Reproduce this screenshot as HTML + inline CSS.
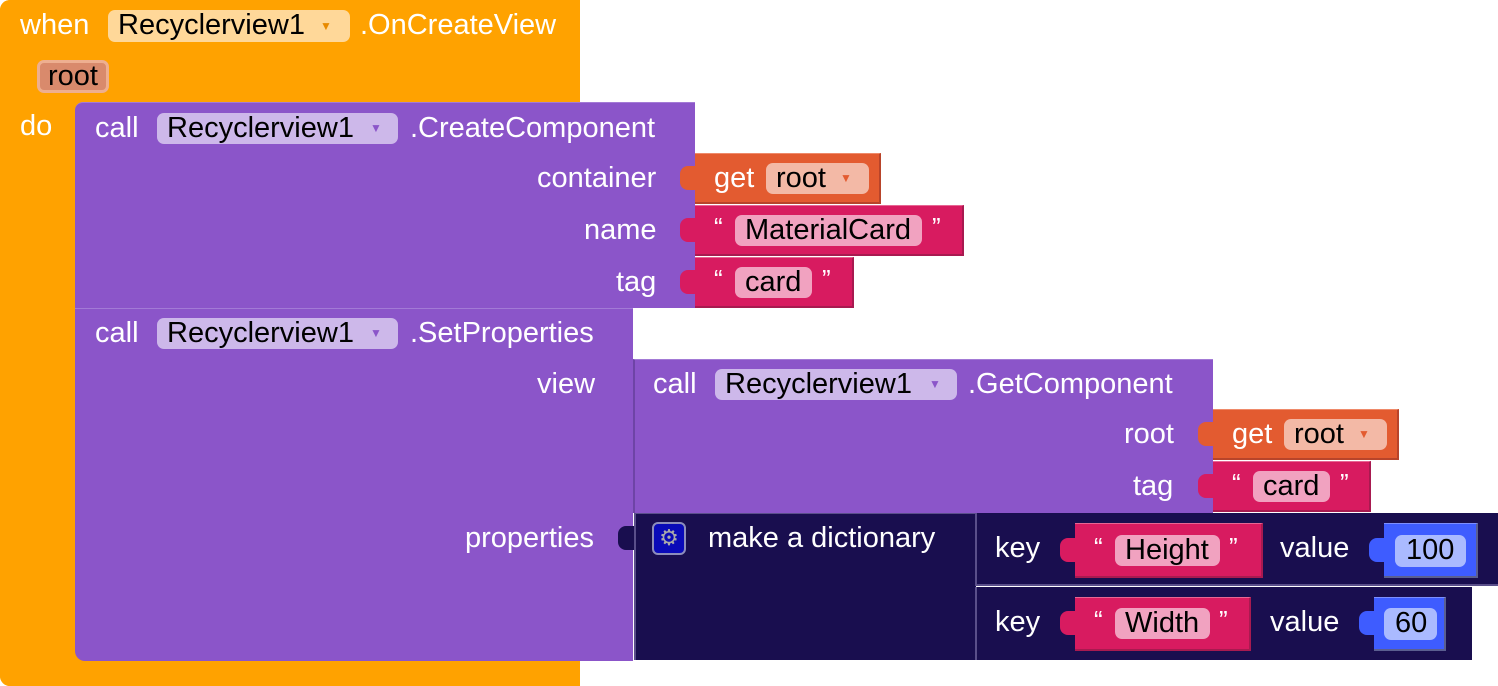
<!DOCTYPE html>
<html><head><meta charset="utf-8"><style>
body{margin:0;width:1498px;height:686px;background:#fff;position:relative;overflow:hidden;font-family:"Liberation Sans",sans-serif;}
div{position:absolute;box-sizing:border-box;}
.t{color:#fff;font-size:29px;line-height:30px;white-space:nowrap;}
.q{color:#fff;font-size:26px;line-height:30px;white-space:nowrap;}
.f{border-radius:7px;color:#000;font-size:29px;line-height:31px;white-space:nowrap;padding-left:10px;}
.a{font-size:12px;line-height:14px;}
.or{background:#ffa200;}
.pu{background:#8b55c9;border-top:1px solid #a37ad6;}
.rd{background:#e35b30;border-top:1px solid #ef8a6a;border-bottom:2px solid #b8442a;border-right:2px solid #b8442a;}
.pk{background:#d81b60;border-top:1px solid #e76693;border-bottom:2px solid #a81a50;border-right:2px solid #a81a50;}
.nv{background:#190e4f;}
.bl{background:#3e5cff;border-top:1px solid #7d8fff;border-bottom:2px solid #5b5f90;border-right:2px solid #5b5f90;}
.tab{width:16px;height:24px;border-radius:8px 0 0 8px;}
</style></head><body>
<!-- orange event -->
<div class="or" style="left:0;top:0;width:580px;height:102px;border-radius:10px 0 0 0"></div>
<div class="or" style="left:0;top:0;width:95px;height:686px;border-radius:10px 0 0 10px"></div>
<div class="or" style="left:0;top:660px;width:580px;height:26px;border-radius:0 0 0 10px"></div>
<div class="t" style="left:20px;top:10px">when</div>
<div class="f" style="left:108px;top:10px;width:242px;height:32px;background:#ffd899">Recyclerview1</div>
<div class="a" style="left:320px;top:19px;color:#e88a00">▼</div>
<div class="t" style="left:360px;top:10px">.OnCreateView</div>
<div class="f" style="left:37px;top:60px;width:72px;height:33px;background:#d98a6c;border:3px solid #eeaf90;padding-left:8px;line-height:27px">root</div>
<div class="t" style="left:20px;top:111px">do</div>

<!-- CreateComponent -->
<div class="pu" style="left:75px;top:102px;width:620px;height:206px;border-radius:8px 0 0 0"></div>
<div class="t" style="left:95px;top:113px">call</div>
<div class="f" style="left:157px;top:113px;width:241px;height:31px;background:#cdb8ea">Recyclerview1</div>
<div class="a" style="left:370px;top:121px;color:#8b55c9">▼</div>
<div class="t" style="left:410px;top:113px">.CreateComponent</div>
<div class="t" style="left:537px;top:163px">container</div>
<div class="t" style="left:584px;top:215px">name</div>
<div class="t" style="left:616px;top:267px">tag</div>
<div class="rd" style="left:695px;top:153px;width:186px;height:51px"></div>
<div class="rd tab" style="left:680px;top:166px;border:none"></div>
<div class="t" style="left:714px;top:163px">get</div>
<div class="f" style="left:766px;top:163px;width:103px;height:31px;background:#f3b9a6">root</div>
<div class="a" style="left:840px;top:171px;color:#e35b30">▼</div>
<div class="pk" style="left:695px;top:205px;width:269px;height:51px"></div>
<div class="pk tab" style="left:680px;top:218px;border:none"></div>
<div class="q" style="left:714px;top:212px">“</div>
<div class="f" style="left:735px;top:215px;width:187px;height:31px;background:#f1a2c0">MaterialCard</div>
<div class="q" style="left:932px;top:212px">”</div>
<div class="pk" style="left:695px;top:257px;width:159px;height:51px"></div>
<div class="pk tab" style="left:680px;top:270px;border:none"></div>
<div class="q" style="left:714px;top:264px">“</div>
<div class="f" style="left:735px;top:267px;width:77px;height:31px;background:#f1a2c0">card</div>
<div class="q" style="left:822px;top:264px">”</div>

<!-- SetProperties -->
<div class="pu" style="left:75px;top:308px;width:558px;height:353px;border-radius:0 0 0 10px"></div>
<div class="t" style="left:95px;top:318px">call</div>
<div class="f" style="left:157px;top:318px;width:241px;height:31px;background:#cdb8ea">Recyclerview1</div>
<div class="a" style="left:370px;top:326px;color:#8b55c9">▼</div>
<div class="t" style="left:410px;top:318px">.SetProperties</div>
<div class="t" style="left:537px;top:369px">view</div>
<div class="t" style="left:465px;top:523px">properties</div>

<!-- GetComponent -->
<div class="pu" style="left:633px;top:359px;width:580px;height:154px;border-left:2px solid #6e44a6"></div>
<div class="t" style="left:653px;top:369px">call</div>
<div class="f" style="left:715px;top:369px;width:242px;height:31px;background:#cdb8ea">Recyclerview1</div>
<div class="a" style="left:929px;top:377px;color:#8b55c9">▼</div>
<div class="t" style="left:968px;top:369px">.GetComponent</div>
<div class="t" style="left:1124px;top:419px">root</div>
<div class="t" style="left:1133px;top:471px">tag</div>
<div class="rd" style="left:1213px;top:409px;width:186px;height:51px"></div>
<div class="rd tab" style="left:1198px;top:422px;border:none"></div>
<div class="t" style="left:1232px;top:419px">get</div>
<div class="f" style="left:1284px;top:419px;width:103px;height:31px;background:#f3b9a6">root</div>
<div class="a" style="left:1358px;top:427px;color:#e35b30">▼</div>
<div class="pk" style="left:1213px;top:461px;width:158px;height:51px"></div>
<div class="pk tab" style="left:1198px;top:474px;border:none"></div>
<div class="q" style="left:1232px;top:468px">“</div>
<div class="f" style="left:1253px;top:471px;width:77px;height:31px;background:#f1a2c0">card</div>
<div class="q" style="left:1340px;top:468px">”</div>

<!-- dictionary -->
<div class="nv" style="left:634px;top:513px;width:342px;height:147px;border-left:2px solid #5a4f8a;border-top:1px solid #5a4f8a"></div>
<div class="nv tab" style="left:618px;top:526px"></div>
<div style="left:652px;top:522px;width:34px;height:33px;background:#0a0ab8;border:2px solid #8d8dbb;border-radius:6px;color:#aaa;font-size:22px;line-height:28px;text-align:center">⚙</div>
<div class="t" style="left:708px;top:523px">make a dictionary</div>
<div class="nv" style="left:975px;top:513px;width:523px;height:73px;border-left:2px solid #5a4f8a;border-bottom:2px solid #5a4f8a"></div>
<div class="nv" style="left:975px;top:587px;width:497px;height:73px;border-left:2px solid #5a4f8a"></div>
<div class="t" style="left:995px;top:533px">key</div>
<div class="t" style="left:1280px;top:533px">value</div>
<div class="t" style="left:995px;top:607px">key</div>
<div class="t" style="left:1270px;top:607px">value</div>
<div class="pk" style="left:1075px;top:523px;width:188px;height:55px"></div>
<div class="pk tab" style="left:1060px;top:538px;border:none"></div>
<div class="q" style="left:1094px;top:532px">“</div>
<div class="f" style="left:1115px;top:535px;width:105px;height:31px;background:#f1a2c0">Height</div>
<div class="q" style="left:1229px;top:532px">”</div>
<div class="pk" style="left:1075px;top:597px;width:176px;height:54px"></div>
<div class="pk tab" style="left:1060px;top:611px;border:none"></div>
<div class="q" style="left:1094px;top:605px">“</div>
<div class="f" style="left:1115px;top:608px;width:95px;height:31px;background:#f1a2c0">Width</div>
<div class="q" style="left:1219px;top:605px">”</div>
<div class="bl" style="left:1384px;top:523px;width:94px;height:55px"></div>
<div class="bl tab" style="left:1369px;top:538px;border:none"></div>
<div class="f" style="left:1395px;top:535px;width:71px;height:32px;background:#aabaff;padding-left:11px">100</div>
<div class="bl" style="left:1374px;top:597px;width:72px;height:54px"></div>
<div class="bl tab" style="left:1359px;top:611px;border:none"></div>
<div class="f" style="left:1384px;top:608px;width:53px;height:32px;background:#aabaff;padding-left:11px">60</div>
</body></html>
